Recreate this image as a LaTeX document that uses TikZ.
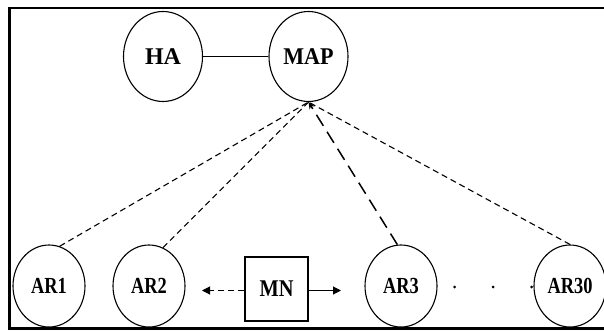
\documentclass[tikz,border=0pt]{standalone}
\usepackage{fontspec}
\setmainfont{Liberation Serif}
\usetikzlibrary{shapes.geometric,arrows.meta}
\begin{document}
\begin{tikzpicture}[x=1pt,y=-1pt,
  bigell/.style={draw,ellipse,line width=1.1pt,inner sep=0pt,
    minimum width=79pt,minimum height=90pt,
    font=\fontsize{24}{26}\selectfont\bfseries},
  arell/.style={draw,ellipse,line width=1.1pt,inner sep=0pt,
    minimum width=72pt,minimum height=82pt,
    font=\fontsize{23}{26}\selectfont\bfseries},
  mnbox/.style={draw,rectangle,line width=1.1pt,inner sep=0pt,
    minimum width=63pt,minimum height=64pt,
    font=\fontsize{24}{26}\selectfont\bfseries},
  thindash/.style={line width=1.1pt,dash pattern=on 6pt off 4pt},
  longdash/.style={line width=1.5pt,dash pattern=on 13pt off 7pt},
  tip/.style={-{Triangle[length=8pt,width=8pt]}}
]
\useasboundingbox (0,0) rectangle (604,331);
% outer frame
\draw[line width=2.5pt] (9.5,8) rectangle (610,328.5);

% top row
\node[bigell] (ha)  at (163,56.5) {HA};
\node[bigell] (map) at (308.5,56.5) {\scalebox{0.92}[1]{MAP}};
\draw[line width=1.1pt] (ha) -- (map);

% access routers
\node[arell] (ar1)  at (49,286)  {\scalebox{0.8}[1]{AR1}};
\node[arell] (ar2)  at (149,286) {\scalebox{0.8}[1]{AR2}};
\node[arell] (ar3)  at (401,286) {\scalebox{0.8}[1]{AR3}};
\node[arell] (ar30) at (570,286) {\scalebox{0.8}[1]{AR30}};

% mobile node
\node[mnbox] (mn) at (276.5,289) {\scalebox{0.85}[1]{MN}};
\coordinate (mnl) at (202,290.5);
\coordinate (mnr) at (341,290.5);
\draw[thindash,tip] (mn.west |- mnl) -- (mnl);
\draw[line width=1.1pt,tip] (mn.east |- mnr) -- (mnr);

% links to the MAP
\draw[thindash] (ar1.75) -- (map.south);
\draw[thindash] (ar2.70) -- (map.south);
\draw[thindash] (ar30.north) -- (map.south);
\draw[longdash,-{Stealth[length=7pt,width=6pt]}] (ar3.95) -- (map.south);

% ellipsis dots between AR3 and AR30
\fill (454.5,287) circle (1.5pt);
\fill (493,287) circle (1.5pt);
\fill (531.5,287) circle (1.5pt);
\end{tikzpicture}
\end{document}
